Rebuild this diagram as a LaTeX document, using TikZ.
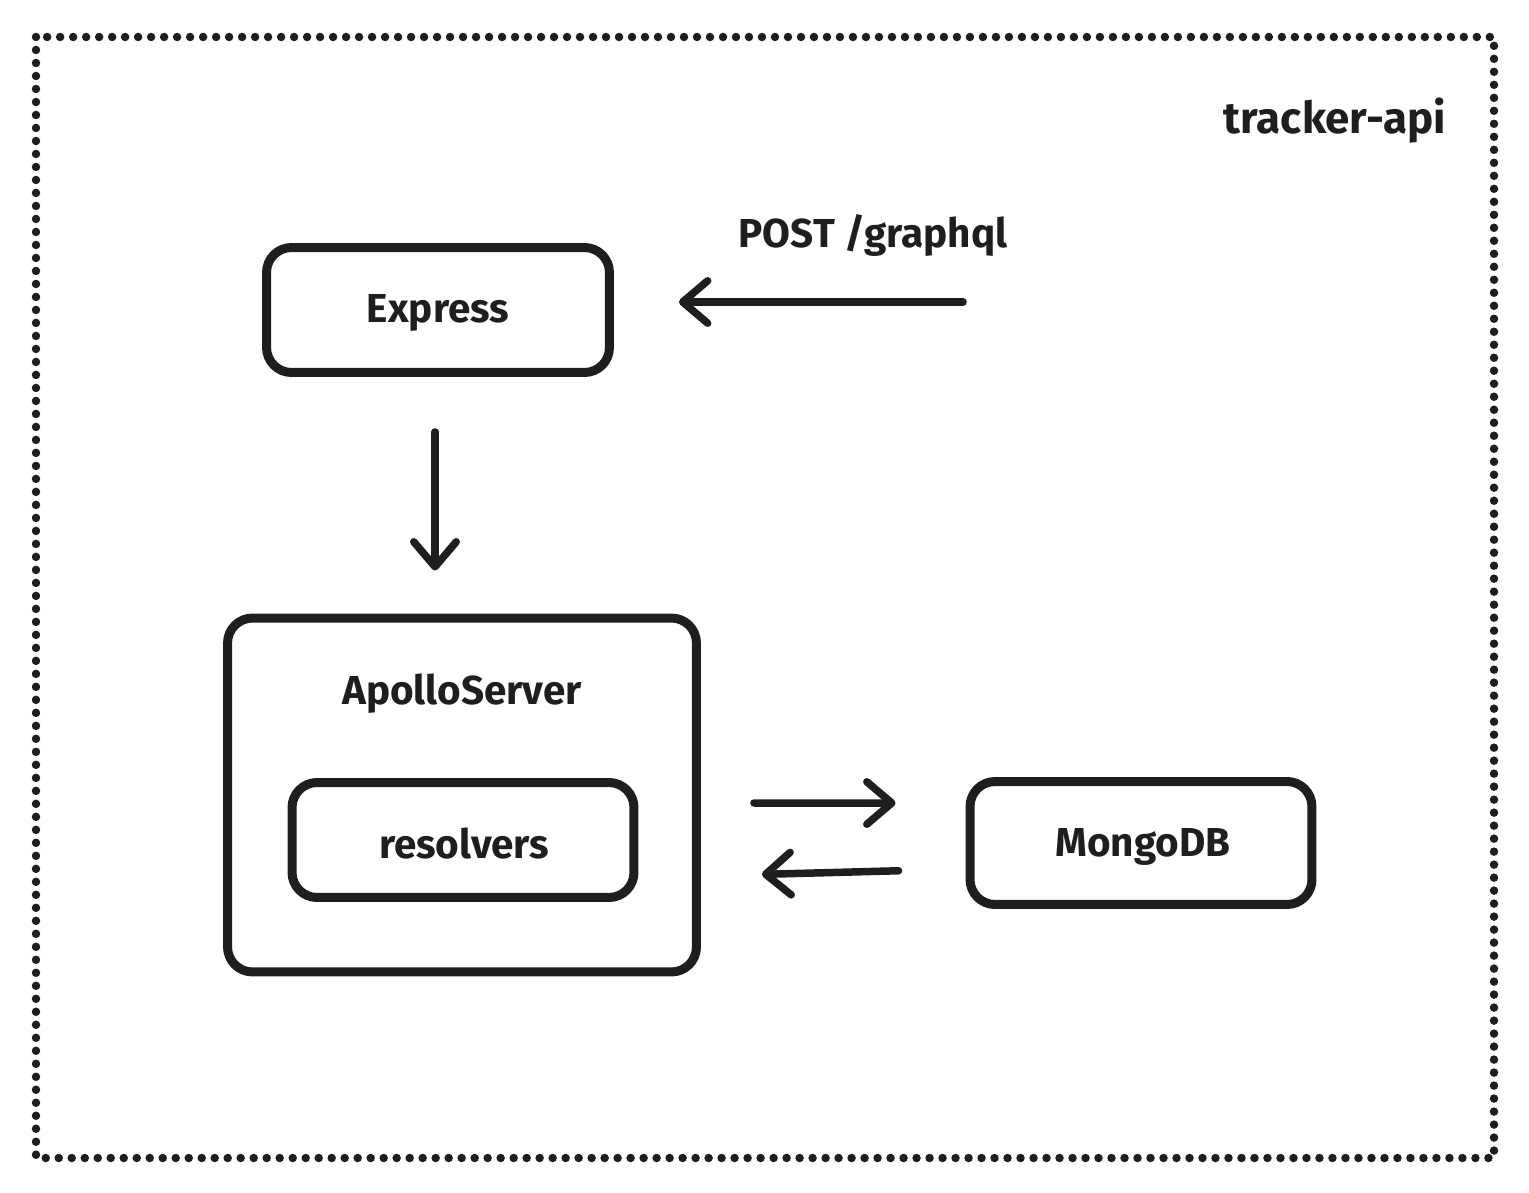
\documentclass[tikz,border=0pt]{standalone}
\usepackage{fontspec}
\setmainfont{Fira Sans}
\usetikzlibrary{arrows.meta,positioning}
\definecolor{ink}{HTML}{1E1E1E}
\tikzset{
  boxnode/.style={draw=ink, line width=0.18cm, rounded corners=0.5cm, inner sep=0pt},
  arr/.style={draw=ink, line width=0.15cm, line cap=round,
    -{Straight Barb[length=0.5cm, width=0.85cm, line cap=round, line join=round]}},
  lbl/.style={text=ink, font=\fontsize{23}{28}\selectfont\bfseries, inner sep=0pt}
}
\begin{document}
\begin{tikzpicture}[x=0.02cm, y=-0.02cm]
   \useasboundingbox (0,0) rectangle (1529,1193);
   % outer frame
   \draw[ink, line width=0.17cm, line cap=round, dash pattern=on 0pt off 0.26cm] (36,37) rectangle (1494,1158);
   \node[lbl, anchor=base, font=\fontsize{25}{30}\selectfont\bfseries] (title) at (1335,133) {tracker-api};

   \node[boxnode, minimum width=6.86cm, minimum height=2.5cm] (express) at (438,310) {};
   \node[lbl] (expresslbl) at (438,313) {Express};

   \node[boxnode, minimum width=9.38cm, minimum height=7.08cm] (apollo) at (462,795) {};
   \node[lbl] (apollolbl) at (462,694) {ApolloServer};
   \node[boxnode, minimum width=6.84cm, minimum height=2.3cm] (resolvers) at (463,840) {};
   \node[lbl] (resolverslbl) at (464,844) {resolvers};

   \node[boxnode, minimum width=6.84cm, minimum height=2.46cm] (mongo) at (1141,843) {};
   \node[lbl] (mongolbl) at (1143,847) {MongoDB};

   \coordinate (post) at (963,302);
   \node[lbl] (postlbl) at (873,235) {POST /graphql};

   \draw[arr, shorten >=1.3cm] (post) -- (post -| express.east);
   \draw[arr, shorten <=1.1cm, shorten >=0.86cm] ([xshift=-0.06cm]express.south) -- ([xshift=-0.06cm]express.south |- apollo.north);
   \draw[arr, shorten <=1.06cm, shorten >=1.4cm] ([yshift=-0.16cm]apollo.east) -- ([yshift=0.8cm]mongo.west);
   \draw[arr, shorten <=1.34cm, shorten >=1.22cm] ([yshift=-0.52cm]mongo.west) -- ([yshift=-1.62cm]apollo.east);
\end{tikzpicture}
\end{document}
